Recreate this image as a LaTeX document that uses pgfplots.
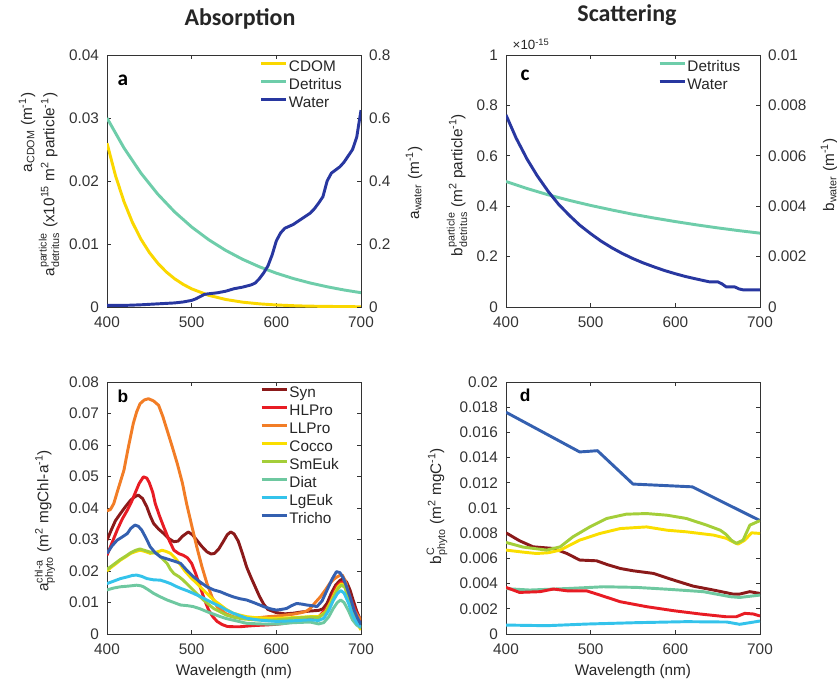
\documentclass[border=0pt]{standalone}
\usepackage{amsmath}
\usepackage{pgfplots}
\pgfplotsset{compat=1.18}
\usepackage{fontspec}
\setmainfont{Liberation Sans}
\newfontfamily\calibri{Carlito}

\definecolor{cdom}{RGB}{250,215,0}
\definecolor{detr}{RGB}{110,205,170}
\definecolor{water}{RGB}{40,55,160}
\definecolor{syn}{RGB}{139,26,26}
\definecolor{hlpro}{RGB}{232,28,36}
\definecolor{llpro}{RGB}{242,125,38}
\definecolor{cocco}{RGB}{250,222,0}
\definecolor{smeuk}{RGB}{164,206,57}
\definecolor{diat}{RGB}{110,200,160}
\definecolor{lgeuk}{RGB}{52,195,235}
\definecolor{tricho}{RGB}{52,96,176}

\newcommand{\lbl}{\fontsize{11.5}{13}\selectfont}

\pgfplotsset{
  panel/.style={
    scale only axis, width=190.5pt, height=189pt,
    anchor=south west,
    xmin=400, xmax=700, xtick={400,500,600,700},
    tick align=inside, major tick length=3pt,
    axis line style={black!80, line width=0.6pt},
    tick style={black!80, line width=0.6pt},
    tick label style={font=\lbl, text=black!80},
    /pgf/number format/assume math mode=true,
    scaled y ticks=false,
    yticklabel style={/pgf/number format/fixed, /pgf/number format/precision=3},
    xticklabel shift=4pt, yticklabel shift=2.5pt,
    no markers,
    every axis plot/.append style={line width=2.2pt, line join=round},
    legend cell align=left,
    legend image code/.code={\draw[##1, line width=2.2pt] (0pt,3.5pt) -- (18.75pt,3.5pt);},
    legend style={draw=none, fill=none, anchor=north west, font=\lbl,
      text=black!85, inner sep=0pt, row sep=0.5pt,
      nodes={inner sep=1pt, text height=8.5pt, text depth=2.5pt}},
  },
}

\begin{document}
\begin{tikzpicture}
\useasboundingbox (0,0) rectangle (627.75pt,512.25pt);

% ---------- a: absorption, CDOM / detritus (left) and water (right)
\begin{axis}[panel, at={(80.25pt,282pt)},
  ymin=0, ymax=0.04, ytick={0,0.01,0.02,0.03,0.04}, ytick pos=left]
\addplot[color=cdom] coordinates {
 (400,0.0260) (410,0.02087) (420,0.01675) (430,0.01344) (440,0.01078)
 (450,0.00866) (460,0.00695) (470,0.00557) (480,0.00447) (490,0.00359)
 (500,0.00288) (520,0.00186) (540,0.00120) (560,0.00077) (580,0.00050)
 (600,0.00032) (625,0.00018) (650,0.00011) (700,0.000035)};
\addplot[color=detr] coordinates {
 (400,0.0300) (420,0.02526) (440,0.02127) (460,0.01791) (480,0.01508)
 (500,0.01270) (520,0.01069) (540,0.00900) (560,0.00758) (580,0.00638)
 (600,0.00537) (620,0.00452) (640,0.00381) (660,0.00321) (680,0.00270)
 (700,0.00227)};
\node[font=\calibri\bfseries\fontsize{16}{16}\selectfont] at (rel axis cs:0.063,0.90) {a};
\end{axis}
\begin{axis}[panel, at={(80.25pt,282pt)}, axis x line=none, axis y line*=right,
  ymin=0, ymax=0.8, ytick={0,0.2,0.4,0.6,0.8},
  legend style={at={(0.6,0.985)}}]
\addlegendimage{color=cdom}\addlegendentry{CDOM}
\addlegendimage{color=detr}\addlegendentry{Detritus}
\addplot[color=water] coordinates {
 (400,0.005) (420,0.005) (440,0.007) (460,0.010) (480,0.013) (490,0.016)
 (500,0.021) (505,0.026) (510,0.033) (515,0.040) (520,0.042) (530,0.045)
 (540,0.050) (550,0.058) (560,0.063) (570,0.070) (575,0.076) (580,0.090)
 (585,0.108) (590,0.130) (595,0.165) (600,0.210) (605,0.235) (610,0.250)
 (620,0.262) (630,0.280) (640,0.298) (645,0.312) (650,0.330) (655,0.350)
 (660,0.400) (665,0.425) (670,0.435) (675,0.445) (680,0.460) (690,0.500)
 (695,0.540) (700,0.625)};
\addlegendentry{Water}
\end{axis}

% ---------- c: scattering, detritus (left) and water (right)
\begin{axis}[panel, at={(379.5pt,282pt)},
  ymin=0, ymax=1, ytick={0,0.2,0.4,0.6,0.8,1}, ytick pos=left]
\addplot[color=detr] coordinates {
 (400,0.498) (425,0.470) (450,0.445) (475,0.423) (500,0.403) (525,0.385)
 (550,0.368) (575,0.353) (600,0.339) (625,0.326) (650,0.314) (675,0.303)
 (700,0.293)};
\node[font=\calibri\bfseries\fontsize{16}{16}\selectfont] at (rel axis cs:0.075,0.92) {c};
\end{axis}
\begin{axis}[panel, at={(379.5pt,282pt)}, axis x line=none, axis y line*=right,
  ymin=0, ymax=0.01, ytick={0,0.002,0.004,0.006,0.008,0.01},
  legend style={at={(0.598,0.985)}}]
\addlegendimage{color=detr}\addlegendentry{Detritus}
\addplot[color=water] coordinates {
 (400,0.00762) (412,0.00670) (425,0.00586) (437,0.00520) (450,0.00458)
 (462,0.00408) (475,0.00363) (487,0.00325) (500,0.00291) (512,0.00262)
 (525,0.00235) (537,0.00213) (550,0.00192) (562,0.00175) (575,0.00159)
 (587,0.00145) (600,0.00132) (612,0.00121) (625,0.00111) (640,0.00100)
 (650,0.00100) (655,0.00092) (660,0.00080) (670,0.00080) (675,0.00072)
 (680,0.00068) (700,0.00068)};
\addlegendentry{Water}
\end{axis}

% ---------- b: phytoplankton absorption
\begin{axis}[panel, at={(80.25pt,36.75pt)},
  ymin=0, ymax=0.08, ytick={0,0.01,0.02,0.03,0.04,0.05,0.06,0.07,0.08},
  legend style={at={(0.602,0.988)}}]
\addplot[color=syn] coordinates {
 (400,0.0298) (405,0.0330) (410,0.0360) (416,0.0383) (422,0.0405) (428,0.0425)
 (433,0.0436) (437,0.0441) (442,0.0430) (447,0.0404) (451,0.0375) (455,0.0351)
 (461,0.0333) (467,0.0319) (473,0.0303) (479,0.0293) (484,0.0295) (489,0.0310)
 (496,0.0324) (501,0.0315) (506,0.0298) (512,0.0278) (518,0.0261) (523,0.0254)
 (527,0.0256) (532,0.0270) (537,0.0292) (542,0.0315) (546,0.0324) (550,0.0318)
 (555,0.0295) (560,0.0255) (565,0.0212) (570,0.0180) (575,0.0150) (580,0.0120)
 (585,0.0095) (590,0.0078) (600,0.0068) (610,0.0064) (620,0.0066) (630,0.0070)
 (640,0.0073) (650,0.0075) (655,0.0080) (660,0.0098) (665,0.0130) (670,0.0155)
 (675,0.0170) (679,0.0176) (683,0.0165) (687,0.0140) (691,0.0105) (695,0.0072)
 (700,0.0040)};
\addlegendentry{Syn}
\addplot[color=hlpro] coordinates {
 (400,0.0250) (406,0.0290) (412,0.0330) (418,0.0365) (424,0.0393) (429,0.0420)
 (433,0.0446) (438,0.0478) (443,0.0499) (447,0.0495) (450,0.0480) (454,0.0450)
 (457,0.0414) (462,0.0375) (467,0.0340) (473,0.0300) (479,0.0266) (485,0.0255)
 (490,0.0250) (495,0.0242) (500,0.0224) (505,0.0190) (510,0.0150) (515,0.0110)
 (520,0.0076) (525,0.0055) (530,0.0040) (536,0.0030) (542,0.0024) (550,0.0023)
 (557,0.0023) (565,0.0025) (575,0.0027) (590,0.0029) (600,0.0031) (610,0.0034)
 (620,0.0040) (630,0.0044) (640,0.0047) (648,0.0050) (652,0.0060) (658,0.0078)
 (663,0.0097) (667,0.0125) (671,0.0150) (675,0.0162) (679,0.0166) (683,0.0150)
 (687,0.0118) (691,0.0090) (695,0.0065) (700,0.0040)};
\addlegendentry{HLPro}
\addplot[color=llpro] coordinates {
 (400,0.0391) (404,0.0395) (408,0.0414) (412,0.0450) (416,0.0485) (420,0.0520)
 (425,0.0590) (431,0.0668) (435,0.0705) (439,0.0731) (444,0.0743) (449,0.0747)
 (455,0.0740) (461,0.0726) (466,0.0690) (471,0.0647) (477,0.0595) (483,0.0541)
 (489,0.0480) (494,0.0414) (500,0.0345) (506,0.0277) (512,0.0215) (518,0.0161)
 (524,0.0118) (530,0.0087) (540,0.0065) (549,0.0055) (560,0.0052) (569,0.0050)
 (580,0.0052) (590,0.0055) (600,0.0057) (610,0.0060) (620,0.0063) (630,0.0068)
 (636,0.0073) (640,0.0081) (646,0.0100) (652,0.0118) (658,0.0140) (663,0.0160)
 (667,0.0172) (671,0.0180) (675,0.0186) (678,0.0187) (682,0.0165) (687,0.0110)
 (692,0.0075) (696,0.0058) (700,0.0045)};
\addlegendentry{LLPro}
\addplot[color=cocco] coordinates {
 (400,0.0200) (405,0.0212) (410,0.0222) (416,0.0235) (422,0.0245) (428,0.0256)
 (434,0.0262) (439,0.0266) (445,0.0262) (451,0.0256) (456,0.0258) (461,0.0262)
 (465,0.0266) (470,0.0262) (475,0.0256) (481,0.0240) (487,0.0219) (492,0.0200)
 (498,0.0182) (504,0.0166) (510,0.0150) (516,0.0134) (522,0.0118) (528,0.0104)
 (534,0.0092) (541,0.0078) (549,0.0066) (557,0.0060) (565,0.0055) (575,0.0052)
 (590,0.0050) (600,0.0050) (620,0.0052) (640,0.0055) (650,0.0055) (658,0.0070)
 (664,0.0100) (669,0.0130) (673,0.0150) (677,0.0160) (681,0.0150) (685,0.0115)
 (690,0.0070) (695,0.0035) (700,0.0013)};
\addlegendentry{Cocco}
\addplot[color=smeuk] coordinates {
 (400,0.0205) (405,0.0215) (410,0.0225) (416,0.0237) (422,0.0247) (428,0.0258)
 (434,0.0266) (439,0.0270) (445,0.0265) (451,0.0260) (456,0.0258) (459,0.0256)
 (465,0.0240) (471,0.0224) (475,0.0205) (479,0.0192) (485,0.0182) (490,0.0171)
 (496,0.0155) (502,0.0139) (508,0.0123) (514,0.0108) (520,0.0094) (526,0.0081)
 (534,0.0070) (541,0.0060) (550,0.0053) (560,0.0048) (575,0.0045) (590,0.0044)
 (600,0.0045) (620,0.0050) (640,0.0054) (650,0.0052) (658,0.0068) (664,0.0095)
 (669,0.0125) (673,0.0145) (677,0.0155) (681,0.0148) (685,0.0118) (690,0.0075)
 (695,0.0040) (700,0.0020)};
\addlegendentry{SmEuk}
\addplot[color=diat] coordinates {
 (400,0.0140) (408,0.0146) (416,0.0150) (425,0.0152) (435,0.0155) (440,0.0153)
 (443,0.0150) (449,0.0140) (455,0.0129) (463,0.0118) (471,0.0108) (479,0.0100)
 (487,0.0092) (495,0.0090) (502,0.0087) (510,0.0080) (518,0.0071) (526,0.0063)
 (534,0.0055) (541,0.0049) (549,0.0044) (557,0.0039) (565,0.0034) (580,0.0032)
 (600,0.0031) (620,0.0036) (640,0.0038) (650,0.0032) (656,0.0036) (662,0.0055)
 (667,0.0080) (672,0.0100) (676,0.0108) (680,0.0100) (685,0.0075) (690,0.0045)
 (695,0.0028) (700,0.0020)};
\addlegendentry{Diat}
\addplot[color=lgeuk] coordinates {
 (400,0.0160) (408,0.0168) (416,0.0176) (425,0.0182) (430,0.0186) (435,0.0187)
 (441,0.0183) (447,0.0176) (455,0.0172) (463,0.0171) (469,0.0166) (475,0.0160)
 (481,0.0152) (487,0.0145) (495,0.0137) (502,0.0129) (510,0.0119) (518,0.0108)
 (526,0.0097) (534,0.0087) (541,0.0076) (549,0.0066) (557,0.0058) (565,0.0050)
 (580,0.0044) (600,0.0040) (620,0.0042) (640,0.0045) (650,0.0043) (656,0.0050)
 (662,0.0075) (667,0.0105) (672,0.0128) (676,0.0138) (680,0.0130) (685,0.0100)
 (690,0.0060) (695,0.0035) (700,0.0022)};
\addlegendentry{LgEuk}
\addplot[color=tricho] coordinates {
 (400,0.0256) (406,0.0280) (412,0.0298) (418,0.0308) (424,0.0319) (428,0.0335)
 (433,0.0346) (437,0.0342) (441,0.0330) (446,0.0305) (451,0.0277) (457,0.0258)
 (463,0.0245) (469,0.0240) (475,0.0235) (481,0.0230) (487,0.0224) (494,0.0203)
 (502,0.0182) (510,0.0165) (518,0.0150) (526,0.0140) (534,0.0134) (541,0.0126)
 (549,0.0118) (557,0.0112) (565,0.0108) (575,0.0098) (585,0.0087) (593,0.0080)
 (600,0.0076) (606,0.0078) (612,0.0081) (618,0.0090) (624,0.0097) (630,0.0095)
 (636,0.0092) (642,0.0090) (648,0.0087) (654,0.0105) (660,0.0140) (666,0.0175)
 (671,0.0198) (675,0.0195) (679,0.0178) (683,0.0150) (688,0.0110) (692,0.0075)
 (696,0.0050) (700,0.0030)};
\addlegendentry{Tricho}
\node[font=\bfseries\fontsize{13}{13}\selectfont] at (rel axis cs:0.063,0.944) {b};
\end{axis}

% ---------- d: phytoplankton scattering
\begin{axis}[panel, at={(379.5pt,36.75pt)},
  ymin=0, ymax=0.02,
  ytick={0,0.002,0.004,0.006,0.008,0.01,0.012,0.014,0.016,0.018,0.02}]
\addplot[color=tricho] coordinates {
 (400,0.0176) (487,0.01445) (498,0.0145) (508,0.01455) (550,0.0119)
 (620,0.01168) (700,0.0090)};
\addplot[color=syn] coordinates {
 (400,0.00803) (416,0.0074) (432,0.00692) (456,0.00679) (472,0.00639)
 (487,0.00587) (507,0.00581) (520,0.0055) (535,0.0052) (550,0.00502)
 (574,0.00481) (598,0.00428) (621,0.0038) (645,0.00349) (668,0.00317)
 (676,0.00317) (688,0.00336) (700,0.00322)};
\addplot[color=diat] coordinates {
 (400,0.0036) (428,0.00349) (476,0.00362) (515,0.00375) (554,0.0037)
 (594,0.00354) (633,0.00336) (665,0.00296) (676,0.0029) (700,0.00309)};
\addplot[color=hlpro] coordinates {
 (400,0.0037) (416,0.0033) (440,0.00336) (456,0.00357) (472,0.00343)
 (495,0.00343) (511,0.00309) (535,0.00256) (566,0.00217) (598,0.00185)
 (629,0.00159) (660,0.00137) (672,0.00137) (682,0.00164) (692,0.00159)
 (700,0.00143)};
\addplot[color=cocco] coordinates {
 (400,0.00666) (420,0.00650) (436,0.00639) (450,0.00645) (464,0.00666)
 (487,0.00745) (511,0.00798) (535,0.00837) (566,0.0085) (590,0.00824)
 (613,0.00811) (645,0.00785) (660,0.0076) (668,0.00732) (674,0.00713)
 (682,0.00745) (690,0.00803) (700,0.00798)};
\addplot[color=smeuk] coordinates {
 (400,0.00727) (420,0.00690) (448,0.00666) (464,0.00692) (479,0.00771)
 (499,0.0085) (519,0.00917) (542,0.00951) (566,0.00956) (590,0.00943)
 (613,0.00917) (637,0.00864) (653,0.00824) (660,0.0079) (666,0.00745)
 (672,0.00719) (680,0.00745) (688,0.00864) (700,0.0090)};
\addplot[color=lgeuk] coordinates {
 (400,0.00071) (448,0.00066) (495,0.00079) (554,0.0009) (613,0.00098)
 (661,0.00095) (676,0.00077) (700,0.00103)};
\node[font=\bfseries\fontsize{13}{13}\selectfont] at (rel axis cs:0.075,0.948) {d};
\end{axis}

% ---------- titles and axis labels (positions in reference pixels)
\begin{scope}[x=0.75pt, y=-0.75pt, shift={(0,512.25pt)}, every node/.style={font=\lbl, text=black!85}]
\node[anchor=base, font=\calibri\bfseries\fontsize{18}{18}\selectfont] at (240,26) {Absorption};
\node[anchor=base, font=\calibri\bfseries\fontsize{18}{18}\selectfont] at (627,22) {Scattering};
\node[rotate=90, anchor=east] at (27,88) {a\textsubscript{CDOM} (m\textsuperscript{-1})};
\node[rotate=90, anchor=east] at (49,88) {$\text{a}^{\text{particle}}_{\text{detritus}}$ (x10\textsuperscript{15} m\textsuperscript{2} particle\textsuperscript{-1})};
\node[rotate=90] at (414,183) {a\textsubscript{water} (m\textsuperscript{-1})};
\node[rotate=90] at (457,185) {$\text{b}^{\text{particle}}_{\text{detritus}}$ (m\textsuperscript{2} particle\textsuperscript{-1})};
\node[rotate=90] at (829,175) {b\textsubscript{water} (m\textsuperscript{-1})};
\node[anchor=base west, font=\fontsize{10}{10}\selectfont] at (508,50) {\texttimes10\textsuperscript{-15}};
\node[rotate=90] at (45,521) {$\text{a}^{\text{chl-a}}_{\text{phyto}}$ (m\textsuperscript{2} mgChl-a\textsuperscript{-1})};
\node[rotate=90] at (437,506) {$\text{b}^{\text{C}}_{\text{phyto}}$ (m\textsuperscript{2} mgC\textsuperscript{-1})};
\node[anchor=base] at (234,675) {Wavelength (nm)};
\node[anchor=base] at (633,675) {Wavelength (nm)};
\end{scope}
\end{tikzpicture}
\end{document}
